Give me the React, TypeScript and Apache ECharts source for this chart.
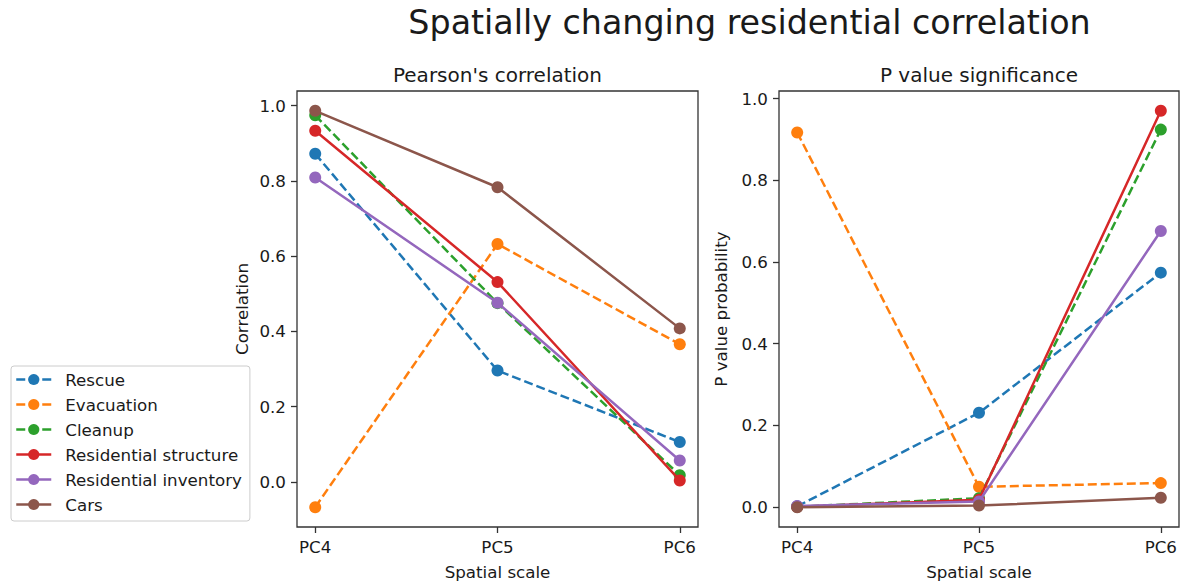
import React, { useEffect, useRef } from 'react';
import * as echarts from 'echarts';

// Spatial scales along the x axis
const scaleLabels = ['PC4', 'PC5', 'PC6'];

// Damage categories
const seriesNames = [
  'Rescue',
  'Evacuation',
  'Cleanup',
  'Residential structure',
  'Residential inventory',
  'Cars',
];
const seriesColors = ['#1f77b4', '#ff7f0e', '#2ca02c', '#d62728', '#9467bd', '#8c564b'];
const dashedSeries = [true, true, true, false, false, false];

// Pearson's correlation per spatial scale
const rescueCorr = [0.872, 0.296, 0.106];
const evacuationCorr = [-0.067, 0.632, 0.366];
const cleanupCorr = [0.974, 0.475, 0.018];
const structureCorr = [0.933, 0.531, 0.004];
const inventoryCorr = [0.809, 0.476, 0.057];
const carsCorr = [0.986, 0.783, 0.408];

// P value per spatial scale
const rescueP = [0.002, 0.231, 0.574];
const evacuationP = [0.917, 0.05, 0.059];
const cleanupP = [0.001, 0.022, 0.924];
const structureP = [0.001, 0.018, 0.97];
const inventoryP = [0.003, 0.014, 0.676];
const carsP = [0.0, 0.004, 0.023];

// Tick positions
const scaleTicks = [0, 1, 2];
const valueTicks = [0, 0.2, 0.4, 0.6, 0.8, 1.0];

const correlationSets = [rescueCorr, evacuationCorr, cleanupCorr, structureCorr, inventoryCorr, carsCorr];
const pValueSets = [rescueP, evacuationP, cleanupP, structureP, inventoryP, carsP];

// Axis limits with a 5% margin around the data, as matplotlib autoscales
function paddedRange(sets: number[][]): [number, number] {
  const all = sets.flat();
  const lo = Math.min(...all);
  const hi = Math.max(...all);
  const pad = (hi - lo) * 0.05;
  return [lo - pad, hi + pad];
}

const FONT = 'DejaVu Sans';
const TEXT_COLOR = '#1a1a1a';
const SPINE_COLOR = '#333333';

export default function App() {
  const ref = useRef<HTMLDivElement>(null);

  useEffect(() => {
    if (!ref.current) return;
    const chart = echarts.init(ref.current, undefined, { renderer: 'svg' });

    const axisText = { fontFamily: FONT, fontSize: 16.7, color: TEXT_COLOR };
    const leftRange = paddedRange(correlationSets);
    const rightRange = paddedRange(pValueSets);
    const ranges = [leftRange, rightRange];
    const yNames = ['Correlation', 'P value probability'];
    const yNameGaps = [47, 50];

    const makeSeries = (sets: number[][], axis: number) =>
      sets.map((values, i) => ({
        type: 'line',
        name: seriesNames[i],
        xAxisIndex: axis,
        yAxisIndex: axis,
        data: values.map((v, j) => [j, v]),
        symbol: 'circle',
        symbolSize: 12,
        showSymbol: true,
        lineStyle: {
          color: seriesColors[i],
          width: 2.5,
          type: dashedSeries[i] ? [9, 4] : 'solid',
        },
        itemStyle: { color: seriesColors[i] },
        emphasis: { disabled: true },
        z: 2 + i,
      }));

    chart.setOption({
      animation: false,
      backgroundColor: '#ffffff',
      title: [
        {
          text: 'Spatially changing residential correlation',
          left: 749.5,
          top: 6,
          textAlign: 'center',
          padding: 0,
          textStyle: { fontFamily: FONT, fontSize: 33.3, fontWeight: 'normal', color: TEXT_COLOR },
        },
        {
          text: "Pearson's correlation",
          left: 497.5,
          top: 65,
          textAlign: 'center',
          padding: 0,
          textStyle: { fontFamily: FONT, fontSize: 20, fontWeight: 'normal', color: TEXT_COLOR },
        },
        {
          text: 'P value significance',
          left: 979,
          top: 65,
          textAlign: 'center',
          padding: 0,
          textStyle: { fontFamily: FONT, fontSize: 20, fontWeight: 'normal', color: TEXT_COLOR },
        },
      ],
      legend: {
        data: seriesNames,
        orient: 'vertical',
        left: 11,
        top: 366,
        itemWidth: 35,
        itemHeight: 14,
        itemGap: 8,
        padding: [5, 8, 8, 4],
        borderColor: '#cccccc',
        borderWidth: 1,
        borderRadius: 3,
        backgroundColor: '#ffffff',
        selectedMode: false,
        lineStyle: { width: 2.5 },
        textStyle: {
          fontFamily: FONT,
          fontSize: 16.7,
          color: TEXT_COLOR,
          lineHeight: 17,
          padding: [0, 0, 0, 9],
        },
      },
      grid: [
        {
          left: 297,
          top: 91,
          width: 401,
          height: 440,
          show: true,
          borderColor: SPINE_COLOR,
          borderWidth: 1.3,
          backgroundColor: 'transparent',
        },
        {
          left: 779,
          top: 91,
          width: 400,
          height: 440,
          show: true,
          borderColor: SPINE_COLOR,
          borderWidth: 1.3,
          backgroundColor: 'transparent',
        },
      ],
      xAxis: [0, 1].map((i) => ({
        type: 'value',
        gridIndex: i,
        position: 'bottom',
        min: -0.1,
        max: 2.1,
        axisLine: { show: false, onZero: false },
        splitLine: { show: false },
        axisTick: {
          show: true,
          customValues: scaleTicks,
          length: 6,
          lineStyle: { color: SPINE_COLOR, width: 1.3 },
        },
        axisLabel: {
          customValues: scaleTicks,
          formatter: (v: number) => scaleLabels[Math.round(v)],
          margin: 11,
          ...axisText,
        },
        name: 'Spatial scale',
        nameLocation: 'middle',
        nameGap: 36,
        nameTextStyle: { ...axisText },
      })),
      yAxis: [0, 1].map((i) => ({
        type: 'value',
        gridIndex: i,
        position: 'left',
        min: ranges[i][0],
        max: ranges[i][1],
        axisLine: { show: false, onZero: false },
        splitLine: { show: false },
        axisTick: {
          show: true,
          customValues: valueTicks,
          length: 6,
          lineStyle: { color: SPINE_COLOR, width: 1.3 },
        },
        axisLabel: {
          customValues: valueTicks,
          formatter: (v: number) => v.toFixed(1),
          margin: 11,
          ...axisText,
        },
        name: yNames[i],
        nameLocation: 'middle',
        nameRotate: 90,
        nameGap: yNameGaps[i],
        nameTextStyle: { ...axisText },
      })),
      series: [...makeSeries(correlationSets, 0), ...makeSeries(pValueSets, 1)],
    });

    return () => chart.dispose();
  }, []);

  return (
    <div
      ref={ref}
      style={{ position: 'fixed', left: 0, top: 0, width: 1182, height: 585, background: '#fff' }}
    />
  );
}
